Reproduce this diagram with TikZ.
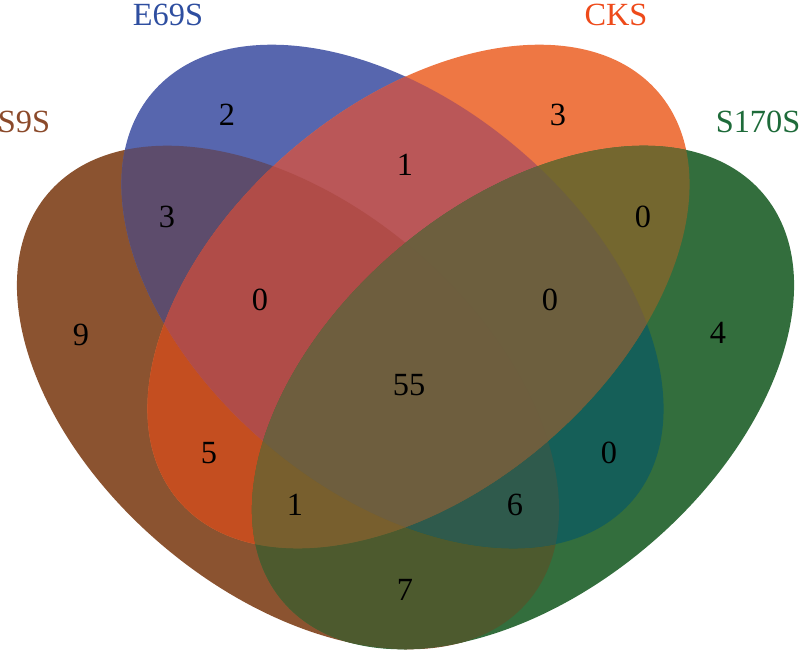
\documentclass[tikz,border=0pt]{standalone}
\usepackage{fontspec}
\setmainfont{Liberation Serif}
\usepackage{xcolor}

% one colour per region of the diagram
\definecolor{sS}{RGB}{139,83,48}
\definecolor{sE}{RGB}{87,102,174}
\definecolor{sC}{RGB}{238,119,68}
\definecolor{sT}{RGB}{51,110,61}
\definecolor{sSE}{RGB}{93,76,108}
\definecolor{sSC}{RGB}{196,78,32}
\definecolor{sST}{RGB}{77,90,46}
\definecolor{sEC}{RGB}{186,87,88}
\definecolor{sET}{RGB}{21,95,88}
\definecolor{sCT}{RGB}{116,103,47}
\definecolor{sSEC}{RGB}{176,76,72}
\definecolor{sSET}{RGB}{47,90,76}
\definecolor{sSCT}{RGB}{120,95,46}
\definecolor{sECT}{RGB}{109,95,62}
\definecolor{sall}{RGB}{110,94,62}
\definecolor{labS}{RGB}{139,74,43}
\definecolor{labE}{RGB}{46,78,160}
\definecolor{labC}{RGB}{238,74,26}
\definecolor{labT}{RGB}{30,107,58}

\newcommand{\ellS}{(288,254.5) ellipse [x radius=315, y radius=194, rotate=-40.3]}
\newcommand{\ellE}{(392.5,355.5) ellipse [x radius=315, y radius=194, rotate=-40.3]}
\newcommand{\ellC}{(418.5,355.5) ellipse [x radius=315, y radius=194, rotate=40.3]}
\newcommand{\ellT}{(523,254.5) ellipse [x radius=315, y radius=194, rotate=40.3]}

\tikzset{
    setname/.style={font=\fontsize{23}{27}\selectfont},
    count/.style={font=\fontsize{23}{27}\selectfont, text=black},
}

\begin{document}
\begin{tikzpicture}[x=0.025cm,y=0.025cm]
		\useasboundingbox (0,0) rectangle (800,652);
		% single sets
		\fill[sS] \ellS;
		\fill[sE] \ellE;
		\fill[sC] \ellC;
		\fill[sT] \ellT;
		% pairs
		\begin{scope} \clip \ellS; \fill[sSE] \ellE; \end{scope}
		\begin{scope} \clip \ellS; \fill[sSC] \ellC; \end{scope}
		\begin{scope} \clip \ellS; \fill[sST] \ellT; \end{scope}
		\begin{scope} \clip \ellE; \fill[sEC] \ellC; \end{scope}
		\begin{scope} \clip \ellE; \fill[sET] \ellT; \end{scope}
		\begin{scope} \clip \ellC; \fill[sCT] \ellT; \end{scope}
		% triples
		\begin{scope} \clip \ellS; \clip \ellE; \fill[sSEC] \ellC; \end{scope}
		\begin{scope} \clip \ellS; \clip \ellE; \fill[sSET] \ellT; \end{scope}
		\begin{scope} \clip \ellS; \clip \ellC; \fill[sSCT] \ellT; \end{scope}
		\begin{scope} \clip \ellE; \clip \ellC; \fill[sECT] \ellT; \end{scope}
		% all four
		\begin{scope} \clip \ellS; \clip \ellE; \clip \ellC; \fill[sall] \ellT; \end{scope}

		\node[setname, text=labS] (nameS) at (24,530) {S9S};
		\node[setname, text=labE] (nameE) at (168,637) {E69S};
		\node[setname, text=labC] (nameC) at (616,637) {CKS};
		\node[setname, text=labT] (nameT) at (758,530) {S170S};

		\foreach \x / \y / \n [count=\i] in {227/537/2,167/435/3,260/352/0,81/317/9,209/199/5,295/147/1,405/62/7,515/147/6,609/199/0,718/319/4,643/435/0,558/537/3,405/487/1,550/352/0,409/267/55} \node[count] (r\i) at (\x,\y) {\n};
	\end{tikzpicture}
\end{document}
